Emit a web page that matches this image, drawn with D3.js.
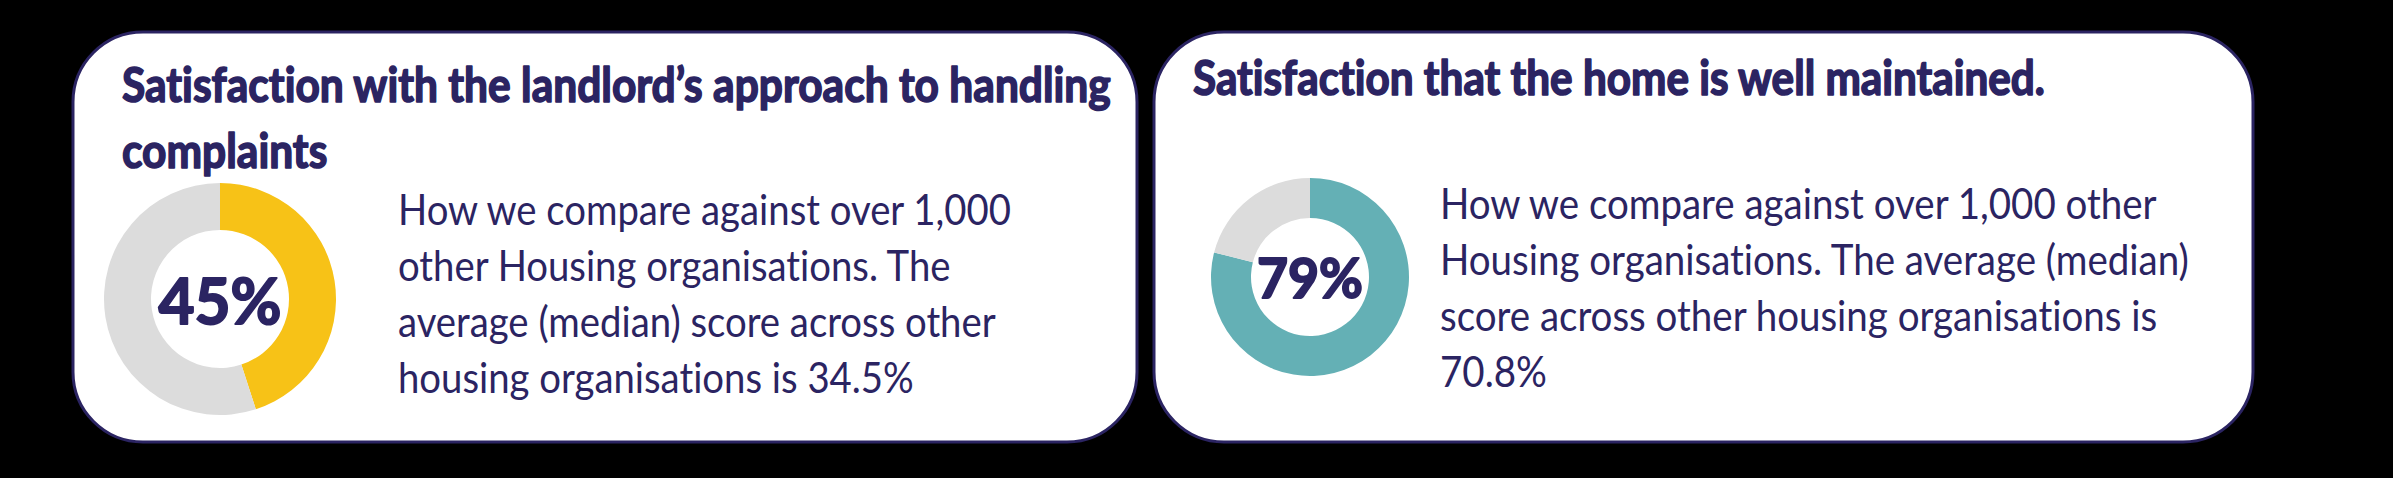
<!DOCTYPE html>
<html>
<head>
<meta charset="utf-8">
<script src="https://cdn.jsdelivr.net/npm/d3@7"></script>
<style>
  html, body { margin: 0; padding: 0; background: #000; }
  svg { display: block; }
  text { font-variant-ligatures: none; }
</style>
</head>
<body>
<script>
// chart values
const titles = [
  ['Satisfaction with the landlord’s approach to handling', 'complaints'],
  ['Satisfaction that the home is well maintained.']
];
const scores = [45, 79];
const scoreLabels = ['45%', '79%'];
const bodyLines = [
  ['How we compare against over 1,000', 'other Housing organisations. The', 'average (median) score across other', 'housing organisations is 34.5%'],
  ['How we compare against over 1,000 other', 'Housing organisations. The average (median)', 'score across other housing organisations is', '70.8%']
];
const scoreColors = ['#f7c217', '#64b0b5'];

const width = 2393;
const height = 478;
const navy = '#2b2462';
const rest = '#dcdcdc';

// layout for each card
const cards = [
  { x: 73, y: 32, w: 1064, h: 410, cx: 220, cy: 299, r0: 69, r1: 116, labelY: 324, labelSize: 64, labelW: 123,
    titleX: 122, titleY: 102, titleW: 989, bodyX: 398, bodyY: 225, bodyW: 613 },
  { x: 1154, y: 32, w: 1099, h: 410, cx: 1310, cy: 277, r0: 59, r1: 99, labelY: 298, labelSize: 56, labelW: 106,
    titleX: 1193, titleY: 95, titleW: 852, bodyX: 1440, bodyY: 219, bodyW: 717 }
];

const svg = d3.select('body')
  .append('svg')
  .attr('width', width)
  .attr('height', height);

svg.append('rect')
  .attr('width', width)
  .attr('height', height)
  .attr('fill', '#000');

const pie = d3.pie().sort(null).value(d => d);

// stretch a block of lines so its first line has the wanted width
function fitBlock (g, x, target) {
  const first = g.select('text').node();
  const k = target / first.getComputedTextLength();
  g.attr('transform', `translate(${x},0) scale(${k},1)`);
}

cards.forEach((c, i) => {
  const card = svg.append('g');

  card.append('rect')
    .attr('x', c.x)
    .attr('y', c.y)
    .attr('width', c.w)
    .attr('height', c.h)
    .attr('rx', 70)
    .attr('ry', 70)
    .attr('fill', '#fff')
    .attr('stroke', navy)
    .attr('stroke-width', 3);

  const title = card.append('g');
  title.selectAll('text')
    .data(titles[i])
    .join('text')
    .attr('x', 0)
    .attr('y', (d, j) => c.titleY + j * 66)
    .attr('font-family', 'Lato, "Open Sans", sans-serif')
    .attr('font-weight', 700)
    .attr('font-size', 48)
    .attr('fill', navy)
    .attr('stroke', navy)
    .attr('stroke-width', 1.6)
    .attr('stroke-linejoin', 'round')
    .text(d => d);
  fitBlock(title, c.titleX, c.titleW);

  const body = card.append('g');
  body.selectAll('text')
    .data(bodyLines[i])
    .join('text')
    .attr('x', 0)
    .attr('y', (d, j) => c.bodyY + j * 56)
    .attr('font-family', 'Lato, "Open Sans", sans-serif')
    .attr('font-weight', 400)
    .attr('font-size', 42)
    .attr('fill', navy)
    .text(d => d);
  fitBlock(body, c.bodyX, c.bodyW);

  const arc = d3.arc().innerRadius(c.r0).outerRadius(c.r1);
  const donut = card.append('g')
    .attr('transform', `translate(${c.cx},${c.cy})`);

  donut.selectAll('path')
    .data(pie([scores[i], 100 - scores[i]]))
    .join('path')
    .attr('d', arc)
    .attr('fill', (d, j) => j === 0 ? scoreColors[i] : rest);

  const label = card.append('g');
  label.append('text')
    .attr('x', 0)
    .attr('y', c.labelY)
    .attr('font-family', 'Lato, "Open Sans", sans-serif')
    .attr('font-weight', 700)
    .attr('font-size', c.labelSize)
    .attr('fill', navy)
    .attr('stroke', navy)
    .attr('stroke-width', 2)
    .attr('stroke-linejoin', 'round')
    .text(scoreLabels[i]);
  fitBlock(label, c.cx - c.labelW / 2, c.labelW);
});
</script>
</body>
</html>
